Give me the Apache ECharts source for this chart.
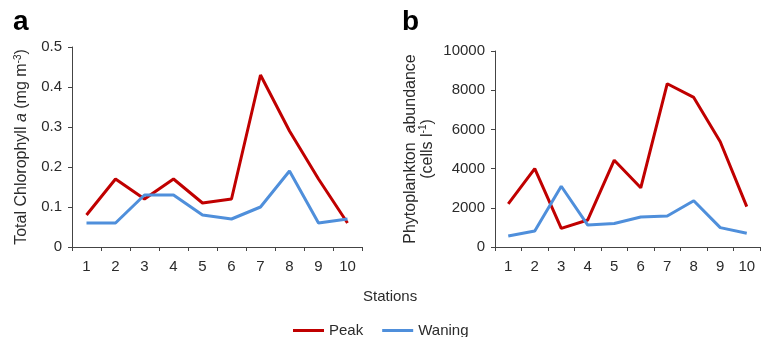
<!DOCTYPE html>
<html>
<head>
<meta charset="utf-8">
<script src="https://cdn.jsdelivr.net/npm/echarts@6/dist/echarts.min.js"></script>
<style>
  html, body { margin: 0; padding: 0; background: #fff; }
  #chart { width: 767px; height: 337px; }
</style>
</head>
<body>
<div id="chart"></div>
<script>
const stations = ['1', '2', '3', '4', '5', '6', '7', '8', '9', '10']
const chlPeak = [0.08, 0.17, 0.12, 0.17, 0.11, 0.12, 0.43, 0.29, 0.17, 0.06]
const chlWaning = [0.06, 0.06, 0.13, 0.13, 0.08, 0.07, 0.10, 0.19, 0.06, 0.07]
const phytoPeak = [2200, 4000, 950, 1380, 4430, 3020, 8330, 7630, 5370, 2060]
const phytoWaning = [560, 820, 3100, 1120, 1200, 1530, 1580, 2360, 990, 700]

const red = '#C00000'
const blue = '#4F8FDB'
const font = 'Liberation Sans, Arial, sans-serif'
const txt = '#2b2b2b'

const chart = echarts.init(document.getElementById('chart'))

const xAxisBase = (gi) => ({
  type: 'category',
  gridIndex: gi,
  data: stations,
  boundaryGap: true,
  axisLine: { lineStyle: { color: '#444', width: 1 } },
  axisTick: { show: true, alignWithLabel: false, length: 4, lineStyle: { color: '#444' } },
  axisLabel: { color: txt, fontSize: 15, fontFamily: font, margin: 12 }
})

const yAxisBase = (gi) => ({
  type: 'value',
  gridIndex: gi,
  axisLine: { show: true, lineStyle: { color: '#444', width: 1 } },
  axisTick: { show: true, length: 4, lineStyle: { color: '#444' } },
  axisLabel: { color: txt, fontSize: 15, fontFamily: font, margin: 10, formatter: (v) => String(v) },
  splitLine: { show: false },
  nameLocation: 'middle',
  nameRotate: 90
})

const option = {
  animation: false,
  textStyle: { fontFamily: font },
  title: [
    { text: 'a', left: 8, top: 3, textStyle: { fontSize: 28, fontWeight: 'bold', color: '#000', fontFamily: font } },
    { text: 'b', left: 397, top: 3, textStyle: { fontSize: 28, fontWeight: 'bold', color: '#000', fontFamily: font } },
    { text: 'Stations', left: 358, top: 284, textStyle: { fontSize: 15, fontWeight: 'normal', color: txt, fontFamily: font } }
  ],
  legend: {
    top: 318,
    left: 288,
    itemWidth: 31,
    itemHeight: 3,
    itemGap: 19,
    icon: 'rect',
    textStyle: { color: txt, fontSize: 15, fontFamily: font },
    data: ['Peak', 'Waning']
  },
  grid: [
    { left: 72, right: 405, top: 47, bottom: 90 },
    { left: 495, right: 7, top: 51, bottom: 90 }
  ],
  xAxis: [xAxisBase(0), xAxisBase(1)],
  yAxis: [
    Object.assign(yAxisBase(0), {
      min: 0, max: 0.5, interval: 0.1,
      name: 'Total Chlorophyll {i|a} (mg m{sup|-3})',
      nameGap: 41,
      nameTextStyle: {
        color: txt, fontSize: 16, fontFamily: font,
        rich: {
          i: { fontStyle: 'italic', fontSize: 16, color: txt, fontFamily: font },
          sup: { fontSize: 10, color: txt, fontFamily: font, padding: [0, 0, 8, 0] }
        }
      }
    }),
    Object.assign(yAxisBase(1), {
      min: 0, max: 10000, interval: 2000,
      name: 'Phytoplankton  abundance\n(cells l{sup|-1})',
      nameGap: 59,
      nameTextStyle: {
        color: txt, fontSize: 16, fontFamily: font, lineHeight: 17,
        rich: {
          sup: { fontSize: 10, color: txt, fontFamily: font, padding: [0, 0, 8, 0] }
        }
      }
    })
  ],
  series: [
    { name: 'Peak', type: 'line', xAxisIndex: 0, yAxisIndex: 0, data: chlPeak, symbol: 'none', lineStyle: { color: red, width: 3 }, itemStyle: { color: red } },
    { name: 'Waning', type: 'line', xAxisIndex: 0, yAxisIndex: 0, data: chlWaning, symbol: 'none', lineStyle: { color: blue, width: 3 }, itemStyle: { color: blue } },
    { name: 'Peak', type: 'line', xAxisIndex: 1, yAxisIndex: 1, data: phytoPeak, symbol: 'none', lineStyle: { color: red, width: 3 }, itemStyle: { color: red } },
    { name: 'Waning', type: 'line', xAxisIndex: 1, yAxisIndex: 1, data: phytoWaning, symbol: 'none', lineStyle: { color: blue, width: 3 }, itemStyle: { color: blue } }
  ]
}

chart.setOption(option)
</script>
</body>
</html>
